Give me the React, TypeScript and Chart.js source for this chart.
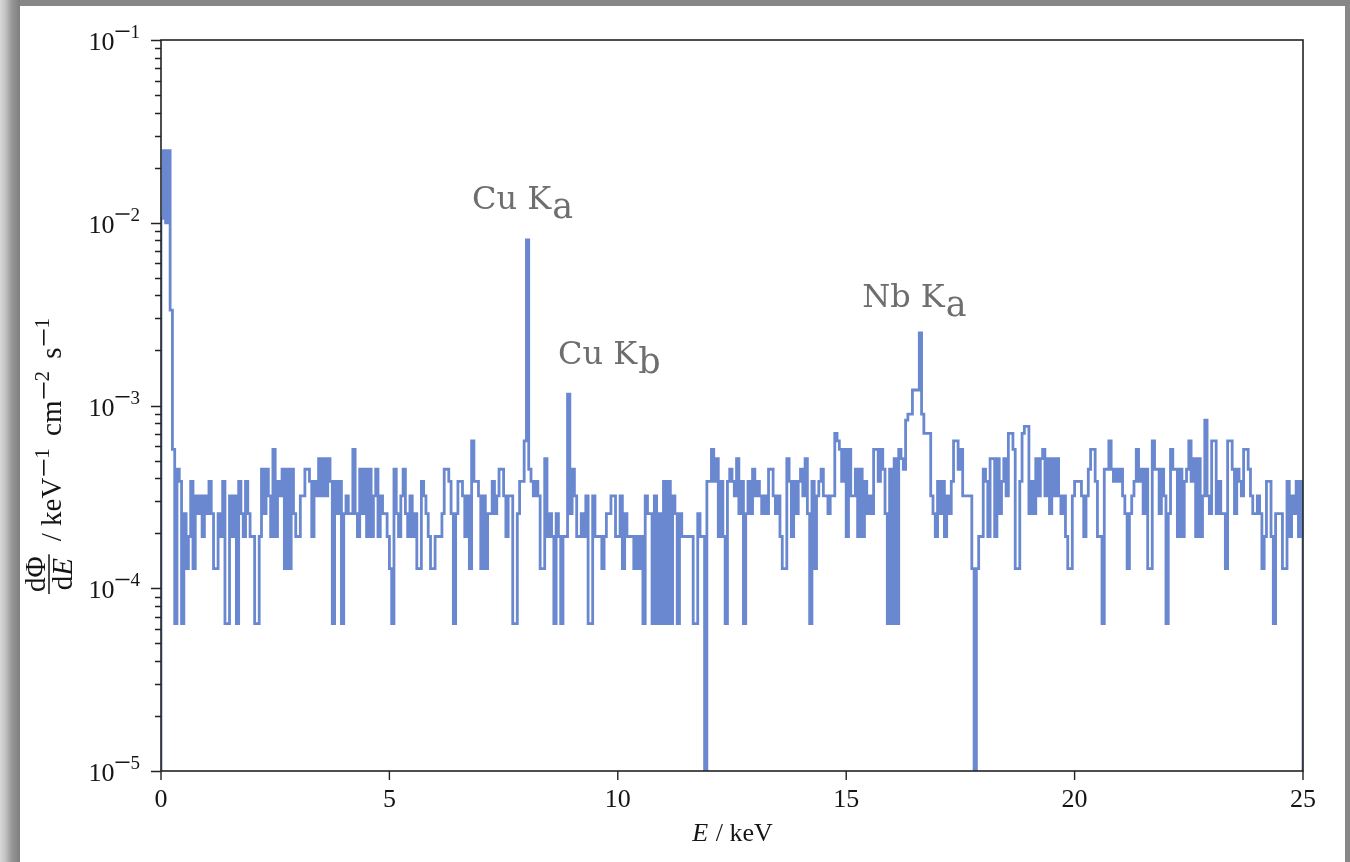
import React, { useEffect, useRef } from 'react';
import { Chart, registerables } from 'chart.js';

Chart.register(...registerables);

// ---- data ---------------------------------------------------------------
const BIN_WIDTH_KEV = 0.05;
const COUNT_TO_FLUX = 6.4e-5; // keV^-1 cm^-2 s^-1 per detected count
const ZERO_FLOOR = 1e-7; // empty bins drawn below the log axis

// counts per 0.05 keV bin, 0 ... 25 keV (500 bins)
const binCounts = [
  165, 387, 156, 387, 52, 9, 1, 7, 6, 1,
  4, 2, 3, 6, 2, 5, 4, 5, 3, 5,
  4, 6, 4, 2, 2, 4, 3, 6, 1, 1,
  5, 3, 5, 1, 6, 4, 3, 6, 4, 3,
  3, 1, 1, 3, 7, 4, 7, 5, 3, 9,
  3, 6, 5, 7, 2, 7, 2, 7, 4, 3,
  3, 5, 5, 7, 7, 6, 3, 6, 5, 8,
  5, 8, 5, 8, 6, 1, 6, 4, 6, 1,
  4, 5, 4, 4, 9, 4, 3, 7, 4, 7,
  3, 7, 3, 5, 7, 3, 5, 4, 4, 3,
  2, 1, 7, 4, 3, 5, 7, 4, 3, 5,
  3, 4, 2, 2, 6, 5, 4, 3, 2, 2,
  3, 3, 3, 4, 7, 7, 6, 4, 1, 4,
  6, 6, 5, 3, 5, 2, 10, 6, 6, 5,
  2, 5, 2, 4, 4, 6, 4, 5, 7, 7,
  5, 3, 5, 5, 1, 1, 4, 6, 6, 10,
  126, 7, 6, 5, 6, 5, 2, 2, 8, 3,
  4, 3, 1, 4, 3, 1, 3, 3, 18, 4,
  7, 5, 3, 3, 4, 3, 5, 1, 1, 5,
  3, 3, 3, 2, 3, 4, 4, 5, 5, 3,
  3, 5, 2, 4, 3, 3, 3, 2, 3, 2,
  3, 1, 5, 4, 4, 1, 5, 1, 4, 1,
  6, 1, 6, 1, 5, 4, 1, 4, 3, 3,
  3, 3, 3, 1, 1, 4, 3, 3, 0, 6,
  6, 9, 6, 8, 3, 6, 3, 1, 6, 7,
  6, 5, 8, 4, 6, 1, 4, 6, 4, 7,
  5, 6, 5, 4, 5, 4, 7, 7, 5, 4,
  5, 3, 2, 2, 8, 6, 3, 6, 4, 6,
  7, 5, 8, 4, 1, 6, 2, 5, 6, 7,
  5, 5, 4, 5, 5, 11, 10, 9, 6, 9,
  3, 9, 5, 5, 7, 3, 7, 3, 6, 4,
  5, 4, 9, 9, 6, 9, 7, 4, 1, 7,
  1, 8, 1, 9, 8, 7, 13, 14, 14, 19,
  19, 19, 39, 14, 11, 11, 11, 5, 4, 3,
  6, 4, 6, 3, 5, 4, 6, 10, 10, 7,
  9, 5, 5, 5, 5, 2, 0, 2, 3, 3,
  7, 6, 3, 8, 8, 3, 8, 4, 6, 8,
  5, 11, 11, 9, 2, 2, 6, 11, 12, 12,
  4, 6, 4, 8, 5, 8, 9, 5, 8, 4,
  8, 5, 8, 5, 4, 5, 3, 2, 2, 5,
  6, 6, 6, 5, 3, 5, 7, 9, 9, 6,
  3, 3, 1, 7, 7, 10, 7, 6, 7, 6,
  7, 5, 4, 2, 4, 5, 6, 9, 6, 7,
  4, 7, 2, 2, 10, 7, 7, 4, 7, 5,
  1, 4, 9, 7, 7, 3, 7, 3, 6, 7,
  10, 6, 8, 3, 8, 3, 5, 13, 5, 4,
  10, 10, 4, 6, 4, 4, 2, 10, 10, 7,
  4, 7, 6, 5, 9, 9, 7, 5, 4, 4,
  5, 4, 2, 3, 6, 6, 3, 1, 4, 4,
  4, 2, 2, 6, 3, 5, 4, 6, 3, 6,
];

const xTickValues = [0, 5, 10, 15, 20, 25];
const yDecadeExponents = [-5, -4, -3, -2, -1];

const annotationMain = ['Cu K', 'Cu K', 'Nb K'];
const annotationSub = ['a', 'b', 'a'];
const annotationEnergy = [6.81, 8.69, 15.35];
const annotationFlux = [1.19e-2, 1.69e-3, 3.46e-3];

// ---- styling ----------------------------------------------------------------
const SERIF = '"Liberation Serif", "DejaVu Serif", serif';
const ANN_FONT = '"DejaVu Serif", "Liberation Serif", serif';
const LINE_COLOR = '#6a88d0';
const INK = '#151515';

const decorPlugin = {
  id: 'decor',
  afterDraw(chart: any) {
    const { ctx, chartArea: a, scales } = chart;
    const xs = scales.x;
    const ys = scales.y;
    ctx.save();

    // frame
    ctx.strokeStyle = '#222';
    ctx.lineWidth = 1.6;
    ctx.strokeRect(a.left, a.top, a.right - a.left, a.bottom - a.top);

    // y ticks
    ctx.lineWidth = 1.4;
    ctx.beginPath();
    for (const e of yDecadeExponents) {
      for (let m = 1; m < 10; m++) {
        const v = m * Math.pow(10, e);
        if (v > ys.max * 1.0001) break;
        const py = Math.round(ys.getPixelForValue(v)) + 0.5;
        const len = m === 1 ? 10 : 6;
        ctx.moveTo(a.left - len, py);
        ctx.lineTo(a.left, py);
      }
    }
    // x ticks
    for (const t of xTickValues) {
      const px = xs.getPixelForValue(t);
      ctx.moveTo(px, a.bottom);
      ctx.lineTo(px, a.bottom + 9);
    }
    ctx.stroke();

    // y tick labels 10^e
    ctx.fillStyle = INK;
    ctx.textBaseline = 'alphabetic';
    for (const e of yDecadeExponents) {
      const py = ys.getPixelForValue(Math.pow(10, e));
      const rightEdge = a.left - 21;
      ctx.textAlign = 'right';
      ctx.font = `19px ${SERIF}`;
      const digit = String(-e);
      ctx.fillText(digit, rightEdge, py - 2);
      const wd = ctx.measureText(digit).width;
      const minusW = 14;
      ctx.fillRect(rightEdge - wd - minusW - 1, py - 9.5, minusW, 1.5);
      ctx.font = `26px ${SERIF}`;
      ctx.fillText('10', rightEdge - wd - minusW - 2, py + 10);
    }

    // x tick labels
    ctx.font = `26px ${SERIF}`;
    ctx.textAlign = 'center';
    for (const t of xTickValues) {
      ctx.fillText(String(t), xs.getPixelForValue(t), a.bottom + 36);
    }

    // x title: E / keV
    {
      const cx = (a.left + a.right) / 2;
      const by = a.bottom + 70;
      ctx.font = `italic 26px ${SERIF}`;
      const wE = ctx.measureText('E').width;
      ctx.font = `26px ${SERIF}`;
      const rest = ' / keV';
      const wR = ctx.measureText(rest).width;
      const x0 = cx - (wE + wR) / 2;
      ctx.textAlign = 'left';
      ctx.font = `italic 26px ${SERIF}`;
      ctx.fillText('E', x0, by);
      ctx.font = `26px ${SERIF}`;
      ctx.fillText(rest, x0 + wE + 1, by);
    }

    // y title (rotated)
    {
      ctx.save();
      ctx.translate(61, 594);
      ctx.rotate(-Math.PI / 2);
      ctx.textAlign = 'left';
      const fs = 29;
      ctx.font = `${fs}px ${SERIF}`;
      const num = 'd\u03A6';
      const wNum = ctx.measureText(num).width;
      const wd = ctx.measureText('d').width;
      ctx.font = `italic ${fs}px ${SERIF}`;
      const wE = ctx.measureText('E').width;
      const wDen = wd + wE;
      const barW = Math.max(wNum, wDen) + 4;
      const barY = -12;
      ctx.fillRect(0, barY - 0.75, barW, 1.5);
      ctx.font = `${fs}px ${SERIF}`;
      ctx.fillText(num, (barW - wNum) / 2, barY - 4);
      const dx = (barW - wDen) / 2;
      ctx.fillText('d', dx, barY + 23);
      ctx.font = `italic ${fs}px ${SERIF}`;
      ctx.fillText('E', dx + wd, barY + 23);

      let x = barW + 13;
      const parts: [string, boolean][] = [
        ['/ keV', false], ['1', true], [' cm', false], ['2', true], [' s', false], ['1', true],
      ];
      for (const [txt, sup] of parts) {
        if (sup) {
          ctx.fillRect(x + 2, -18, 16, 1.6);
          x += 19;
          ctx.font = `21px ${SERIF}`;
          ctx.fillText(txt, x, -12);
          x += ctx.measureText(txt).width + 5;
        } else {
          ctx.font = `${fs}px ${SERIF}`;
          ctx.fillText(txt, x, 0);
          x += ctx.measureText(txt).width;
        }
      }
      ctx.restore();
    }

    // annotations
    ctx.fillStyle = '#6e6e6e';
    ctx.textAlign = 'left';
    for (let i = 0; i < annotationMain.length; i++) {
      const px = xs.getPixelForValue(annotationEnergy[i]);
      const py = ys.getPixelForValue(annotationFlux[i]);
      ctx.font = `32px ${ANN_FONT}`;
      ctx.fillText(annotationMain[i], px, py);
      const w = ctx.measureText(annotationMain[i]).width;
      ctx.font = `35px ${ANN_FONT}`;
      ctx.fillText(annotationSub[i], px + w + 1, py + 9);
    }

    ctx.restore();
  },
};

export default function App() {
  const canvasRef = useRef<HTMLCanvasElement | null>(null);

  useEffect(() => {
    const canvas = canvasRef.current;
    if (!canvas) return;
    const fluxValues = binCounts.map((c) => (c > 0 ? c * COUNT_TO_FLUX : ZERO_FLOOR));
    const points: { x: number; y: number }[] = [{ x: 0, y: ZERO_FLOOR }];
    fluxValues.forEach((v, i) => points.push({ x: i * BIN_WIDTH_KEV, y: v }));
    points.push({ x: binCounts.length * BIN_WIDTH_KEV, y: ZERO_FLOOR });

    const chart = new Chart(canvas, {
      type: 'line',
      data: {
        datasets: [
          {
            data: points,
            borderColor: LINE_COLOR,
            borderWidth: 2.8,
            pointRadius: 0,
            fill: false,
            stepped: 'before',
            tension: 0,
            borderJoinStyle: 'miter',
          } as any,
        ],
      },
      options: {
        animation: false,
        responsive: false,
        devicePixelRatio: 1,
        layout: { padding: { left: 21, top: 40, right: 47, bottom: 11 } },
        plugins: { legend: { display: false }, tooltip: { enabled: false } },
        scales: {
          x: {
            type: 'linear',
            min: 0,
            max: 25,
            ticks: { display: false, stepSize: 5 },
            grid: { display: false },
            border: { display: false },
            afterFit: (s: any) => { s.height = 80; },
          },
          y: {
            type: 'logarithmic',
            min: 1e-5,
            max: 1e-1,
            ticks: { display: false },
            grid: { display: false },
            border: { display: false },
            afterFit: (s: any) => { s.width = 140; },
          },
        },
      } as any,
      plugins: [decorPlugin],
    });
    return () => chart.destroy();
  }, []);

  return (
    <div style={{ position: 'absolute', left: 0, top: 0, width: 1350, height: 862, background: '#878787', overflow: 'hidden' }}>
      <div style={{ position: 'absolute', left: 0, top: 0, width: 20, height: 862, background: 'linear-gradient(to right, #d8d8d8 0%, #c4c4c4 25%, #969696 60%, #7e7e7e 100%)' }} />
      <div style={{ position: 'absolute', left: 20, top: 6, width: 1325, height: 856, background: '#ffffff' }} />
      <canvas ref={canvasRef} width={1350} height={862} style={{ position: 'absolute', left: 0, top: 0, width: 1350, height: 862 }} />
    </div>
  );
}
